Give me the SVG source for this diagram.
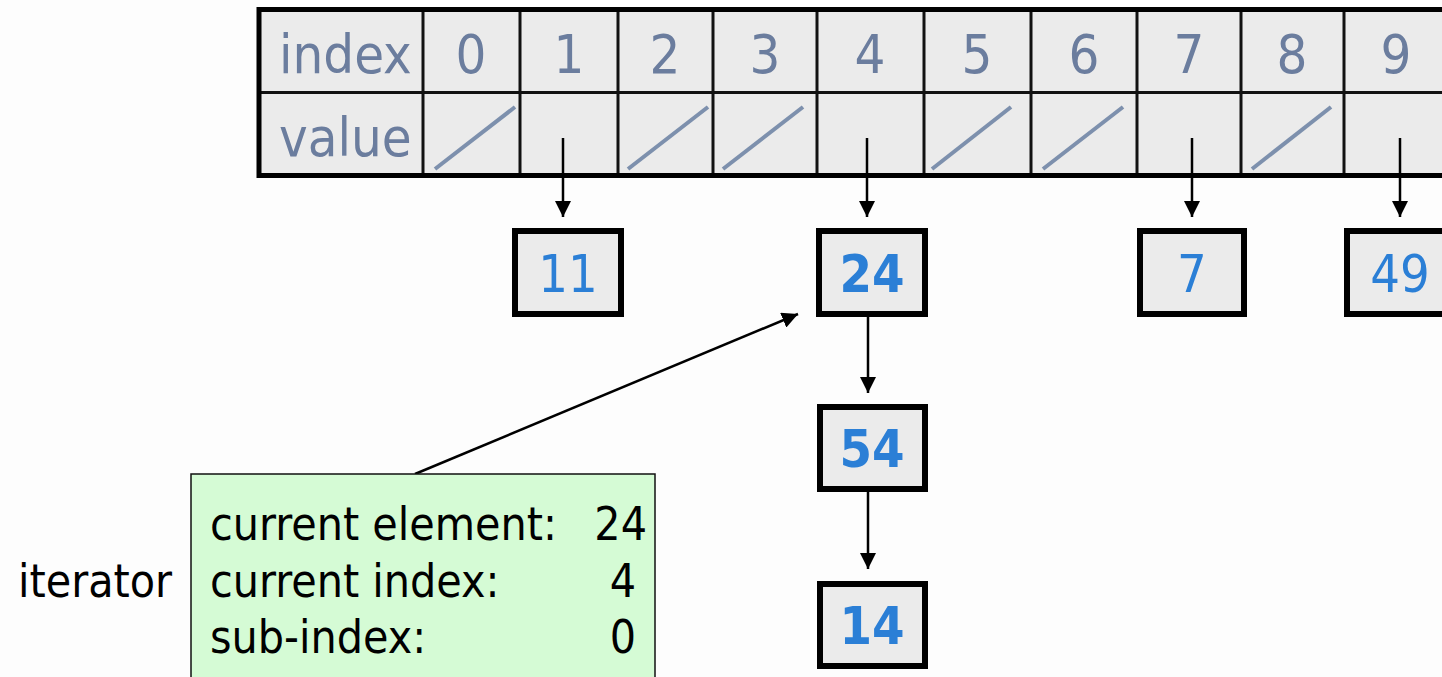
<svg xmlns="http://www.w3.org/2000/svg" width="1442" height="677" viewBox="0 0 1442 677">
<defs>
<style>
.t{font-family:'DejaVu Sans Condensed','DejaVu Sans',sans-serif}
.hdr{fill:#6b7d9e;font-size:54px;text-anchor:middle}
.lbl{fill:#6b7d9e;font-size:54px}
.slash{stroke:#7d90ad;stroke-width:4}
.grid{stroke:#111;stroke-width:3}
.box{fill:#ebebeb;stroke:#000;stroke-width:6}
.num{fill:#2b7fd6;font-size:52px;text-anchor:middle}
.b{font-weight:bold}
.conn{stroke:#000;stroke-width:2.5;fill:none}
.it{fill:#000;font-size:46px}
</style>
<marker id="ah" viewBox="0 0 16 16" refX="16" refY="8" markerWidth="16" markerHeight="16" markerUnits="userSpaceOnUse" orient="auto">
<path d="M0,0 L16,8 L0,16 z" fill="#000"/>
</marker>
</defs>
<rect width="1442" height="677" fill="#fdfdfd"/>
<g id="array-table">
<rect x="259" y="9.5" width="1200" height="166" fill="#ebebeb"/>
<line class="grid" x1="259" y1="92.5" x2="1442" y2="92.5" stroke="#444"/>
<g class="grid">
<line x1="423" y1="9" x2="423" y2="176"/>
<line x1="520" y1="9" x2="520" y2="176"/>
<line x1="618" y1="9" x2="618" y2="176"/>
<line x1="713" y1="9" x2="713" y2="176"/>
<line x1="817" y1="9" x2="817" y2="176"/>
<line x1="924" y1="9" x2="924" y2="176"/>
<line x1="1031" y1="9" x2="1031" y2="176"/>
<line x1="1137" y1="9" x2="1137" y2="176"/>
<line x1="1241" y1="9" x2="1241" y2="176"/>
<line x1="1344" y1="9" x2="1344" y2="176"/>
</g>
<rect x="259" y="9.5" width="1200" height="166" fill="none" stroke="#000" stroke-width="5"/>
<text class="t lbl" x="279" y="73">index</text>
<text class="t lbl" x="279" y="156">value</text>
<g class="t hdr">
<text x="471" y="73">0</text>
<text x="569" y="73">1</text>
<text x="665" y="73">2</text>
<text x="765" y="73">3</text>
<text x="870" y="73">4</text>
<text x="977" y="73">5</text>
<text x="1084" y="73">6</text>
<text x="1189" y="73">7</text>
<text x="1292" y="73">8</text>
<text x="1396" y="73">9</text>
</g>
<g class="slash">
<line x1="435" y1="169" x2="515" y2="107"/>
<line x1="628" y1="169" x2="708" y2="107"/>
<line x1="723" y1="169" x2="803" y2="107"/>
<line x1="932" y1="169" x2="1011" y2="107"/>
<line x1="1043" y1="169" x2="1123" y2="107"/>
<line x1="1252" y1="169" x2="1331" y2="107"/>
</g>
</g>
<g id="connectors">
<line class="conn" x1="563" y1="138" x2="563" y2="217" marker-end="url(#ah)"/>
<line class="conn" x1="867" y1="138" x2="867" y2="217" marker-end="url(#ah)"/>
<line class="conn" x1="1192" y1="138" x2="1192" y2="217" marker-end="url(#ah)"/>
<line class="conn" x1="1400" y1="138" x2="1400" y2="217" marker-end="url(#ah)"/>
<line class="conn" x1="868" y1="317" x2="868" y2="393" marker-end="url(#ah)"/>
<line class="conn" x1="868" y1="492" x2="868" y2="569" marker-end="url(#ah)"/>
<line class="conn" x1="415" y1="474" x2="798" y2="314" marker-end="url(#ah)" stroke-width="2"/>
</g>
<g id="node-11">
<rect class="box" x="515" y="231" width="106" height="83"/>
<text class="t num" x="568" y="292">11</text>
</g>
<g id="node-24">
<rect class="box" x="819" y="231" width="106" height="83"/>
<text class="t num b" x="872" y="292">24</text>
</g>
<g id="node-7">
<rect class="box" x="1140" y="231" width="104" height="83"/>
<text class="t num" x="1192" y="292">7</text>
</g>
<g id="node-49">
<rect class="box" x="1347" y="231" width="104" height="83"/>
<text class="t num" x="1400" y="292">49</text>
</g>
<g id="node-54">
<rect class="box" x="820" y="407" width="105" height="82"/>
<text class="t num b" x="872" y="467">54</text>
</g>
<g id="node-14">
<rect class="box" x="820" y="584" width="105" height="82"/>
<text class="t num b" x="872" y="644">14</text>
</g>
<g id="iterator">
<text class="t it" x="18" y="597">iterator</text>
<rect x="191" y="474" width="464" height="215" fill="#d5fbd5" stroke="#111" stroke-width="1.5"/>
<text class="t it" x="210" y="540">current element:</text>
<text class="t it" x="647" y="540" text-anchor="end">24</text>
<text class="t it" x="210" y="597">current index:</text>
<text class="t it" x="636" y="597" text-anchor="end">4</text>
<text class="t it" x="210" y="653">sub-index:</text>
<text class="t it" x="636" y="653" text-anchor="end">0</text>
</g>
</svg>
